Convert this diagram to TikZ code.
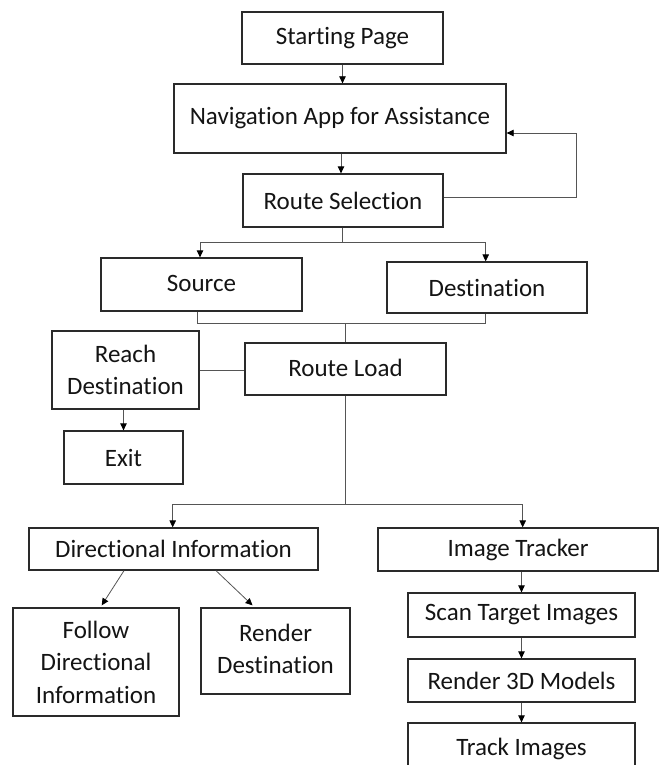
\documentclass[tikz,border=0pt]{standalone}
\usepackage{fontspec}
\setmainfont[RawFeature={-liga;-clig}]{Carlito}
\usetikzlibrary{arrows.meta,calc}
\definecolor{boxline}{HTML}{2A2A2A}
\definecolor{connline}{HTML}{555555}
\definecolor{txt}{HTML}{141414}
\tikzset{
  box/.style={draw=boxline, line width=1.3pt, inner sep=0pt, align=center,
    text=txt, font=\fontsize{25}{32.5}\selectfont},
  conn/.style={draw=connline, line width=0.8pt},
  arr/.style={conn, -{Triangle[length=7pt,width=6.5pt,color=black]}},
}
\begin{document}
\begin{tikzpicture}[x=1pt,y=-1pt]
\useasboundingbox (0,0) rectangle (659,765);
\clip (0,0) rectangle (659,765);
\fill[white] (0,0) rectangle (659,765);
% boxes
\node[box, minimum width=201pt, minimum height=52pt] (start) at (342.5,38) {Starting Page};
\node[box, minimum width=332pt, minimum height=69pt] (nav) at (340,118.5) {\raisebox{4pt}{Navigation App for Assistance}};
\node[box, minimum width=200pt, minimum height=53pt] (rsel) at (343,200.5) {Route Selection};
\node[box, minimum width=201pt, minimum height=53pt] (src) at (201.5,284.5) {\raisebox{3pt}{Source}};
\node[box, minimum width=200pt, minimum height=51pt] (dst) at (487,287.5) {Destination};
\node[box, minimum width=201pt, minimum height=52pt] (rload) at (345.5,369) {\raisebox{3pt}{Route Load}};
\node[box, minimum width=147pt, minimum height=78pt] (reach) at (125.5,370) {Reach\\Destination};
\node[box, minimum width=119pt, minimum height=53pt] (exit) at (123.5,457.5) {Exit};
\node[box, minimum width=289pt, minimum height=42pt] (dir) at (173.5,549) {Directional Information};
\node[box, minimum width=280pt, minimum height=43pt] (img) at (518,549.5) {Image Tracker};
\node[box, minimum width=166pt, minimum height=108pt] (follow) at (96,662) {Follow\\Directional\\Information};
\node[box, minimum width=149pt, minimum height=86pt] (rdest) at (275.5,651) {\raisebox{5pt}{\begin{tabular}{@{}c@{}}Render\\Destination\end{tabular}}};
\node[box, minimum width=227pt, minimum height=44pt] (scan) at (521.5,615) {Scan Target Images};
\node[box, minimum width=227pt, minimum height=43pt] (r3d) at (521.5,680.5) {Render 3D Models};
\node[box, minimum width=227pt, minimum height=52pt] (track) at (521.5,749) {Track Images};
% connectors
\draw[arr] (start.south) -- (start.south |- nav.north);
\draw[arr] ([xshift=1pt]nav.south) -- ([xshift=1pt]nav.south |- rsel.north);
\coordinate (fb) at (576,133);
\draw[arr] ([yshift=3pt]rsel.east) -| (fb) -- (fb -| nav.east);
\coordinate (splitA) at (342,242);
\draw[conn] (splitA |- rsel.south) -- (splitA);
\draw[arr] (splitA) -| ([xshift=-1.5pt]src.north);
\draw[arr] (splitA) -| ([xshift=-1.3pt]dst.north);
\coordinate (merge) at (345.7,323.3);
\draw[conn] ([xshift=-4pt]src.south) |- (merge) -| ([xshift=-1.3pt]dst.south);
\draw[conn] (merge) -- (merge |- rload.north);
\draw[conn] (reach.east) -- (reach.east -| rload.west);
\draw[arr] (exit.north |- reach.south) -- (exit.north);
\coordinate (split2) at (345.5,504.3);
\draw[conn] (rload.south) -- (split2);
\draw[arr] (split2) -| ([xshift=-0.8pt]dir.north);
\draw[arr] (split2) -| ([xshift=4.7pt]img.north);
\draw[arr] ([xshift=-49.5pt]dir.south) -- ([xshift=5.7pt,yshift=2pt]follow.north);
\draw[arr] ([xshift=42.5pt]dir.south) -- ([xshift=-23pt,yshift=2pt]rdest.north);
\draw[arr] (scan.north |- img.south) -- (scan.north);
\draw[arr] (scan.south) -- (r3d.north);
\draw[arr] (r3d.south) -- (track.north);
\end{tikzpicture}
\end{document}
